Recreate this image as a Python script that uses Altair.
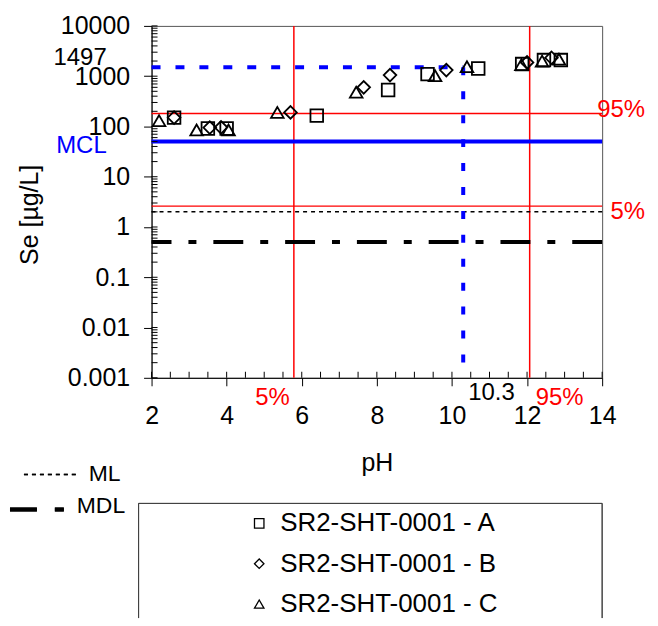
import altair as alt
import pandas as pd

# ---------------- data ----------------
series_names = ["SR2-SHT-0001 - A", "SR2-SHT-0001 - B", "SR2-SHT-0001 - C"]
a_ph = [2.6, 3.5, 4.0, 6.4, 8.3, 9.35, 10.7, 11.87, 12.45, 12.9]
a_se = [150, 91, 91, 164, 530, 1100, 1420, 1740, 2090, 2090]
b_ph = [2.6, 3.55, 3.85, 5.7, 7.65, 8.35, 9.85, 12.0, 12.65]
b_se = [150, 95, 96, 190, 600, 1050, 1320, 1880, 2320]
c_ph = [2.2, 3.2, 4.05, 5.35, 7.45, 9.55, 10.4, 11.85, 12.4, 12.85]
c_se = [130, 85, 85, 190, 480, 1020, 1540, 1700, 2000, 2170]

ph_pct = [5.79, 12.07]          # 5 % and 95 % pH
se_pct = [2.6, 180]             # 5 % and 95 % Se
pct_labels = ["5%", "95%"]
mcl = [50]
ml = [2]
mdl = [0.5]
ph_cross = [10.3]
se_cross = [1497]

x_ticks = [2, 4, 6, 8, 10, 12, 14]
y_ticks = [0.001, 0.01, 0.1, 1, 10, 100, 1000, 10000]
x_minor = [2 + 0.5 * i for i in range(25)]
y_minor = [k * 10.0 ** e for e in range(-3, 4) for k in range(1, 10)] + [10000]

# ---------------- setup ----------------
W, H = 452, 353
FONT = "Liberation Sans"
FS = 25      # tick labels / axis titles
FT = 24      # annotations

rows = []
for name, xs_, ys_ in zip(series_names, [a_ph, b_ph, c_ph], [a_se, b_se, c_se]):
    for xv, yv in zip(xs_, ys_):
        rows.append({"ph": xv, "se": yv, "series": name})
pts = pd.DataFrame(rows)

xs = alt.Scale(domain=[x_ticks[0], x_ticks[-1]], nice=False, zero=False)
ys = alt.Scale(type="log", domain=[y_ticks[0], y_ticks[-1]], nice=False)

x_axis = alt.Axis(values=x_ticks, format="d", tickSize=8, labelFontSize=FS, labelPadding=18,
                  title="pH", titleFontSize=FS, titlePadding=22, titleFontWeight="normal",
                  domainColor="black", tickColor="black", labelColor="black", titleColor="black",
                  grid=False, labelFlush=False, labelOverlap=False)
y_axis = alt.Axis(values=y_ticks, labelExpr="format(datum.value, '~g')", tickSize=8,
                  labelFontSize=FS, labelPadding=14, title="Se [µg/L]", titleFontSize=FS,
                  titlePadding=18, titleY=189, titleFontWeight="normal", domainColor="black",
                  tickColor="black", labelColor="black", titleColor="black", grid=False,
                  labelFlush=False, labelOverlap=False)

points = alt.Chart(pts).mark_point(filled=False, size=160, strokeWidth=1.8, color="black", opacity=1).encode(
    x=alt.X("ph:Q", scale=xs, axis=x_axis),
    y=alt.Y("se:Q", scale=ys, axis=y_axis),
    shape=alt.Shape("series:N",
                    scale=alt.Scale(domain=series_names, range=["square", "diamond", "triangle-up"]),
                    legend=alt.Legend(orient="none", legendX=95, legendY=486, title=None,
                                      labelFontSize=26, labelFont=FONT, labelColor="black",
                                      labelLimit=500, symbolSize=90, symbolStrokeWidth=1.3,
                                      symbolStrokeColor="black", rowPadding=14.5, labelOffset=8)),
)

# inside (minor) ticks
x_in = alt.Chart(pd.DataFrame({"ph": x_minor})).mark_tick(
    orient="vertical", size=6, thickness=1, color="black", opacity=1).encode(
    x=alt.X("ph:Q", scale=xs, axis=None), y=alt.value(H - 3))
y_in = alt.Chart(pd.DataFrame({"se": y_minor})).mark_tick(
    orient="horizontal", size=6, thickness=1, color="black", opacity=1).encode(
    y=alt.Y("se:Q", scale=ys, axis=None), x=alt.value(3))

def hrule(vals, **kw):
    return alt.Chart(pd.DataFrame({"se": vals})).mark_rule(**kw).encode(
        y=alt.Y("se:Q", scale=ys, axis=None))

def vrule(vals, **kw):
    return alt.Chart(pd.DataFrame({"ph": vals})).mark_rule(**kw).encode(
        x=alt.X("ph:Q", scale=xs, axis=None))

red_h = hrule(se_pct, color="#FF0000", strokeWidth=1.5)
red_v = vrule(ph_pct, color="#FF0000", strokeWidth=1.5)
mcl_r = hrule(mcl, color="#0000FF", strokeWidth=4)
ml_r = hrule(ml, color="black", strokeWidth=1.5, strokeDash=[4, 4])
mdl_r = hrule(mdl, color="black", strokeWidth=4, strokeDash=[30, 17, 8, 17])

cross_df = pd.DataFrame({"ph0": [x_ticks[0]], "ph": ph_cross, "se": se_cross, "se0": [y_ticks[0]]})
cross_h = alt.Chart(cross_df).mark_rule(color="#0000FF", strokeWidth=4, strokeDash=[9, 15]).encode(
    x=alt.X("ph0:Q", scale=xs, axis=None), x2="ph:Q", y=alt.Y("se:Q", scale=ys, axis=None))
cross_v = alt.Chart(cross_df).mark_rule(color="#0000FF", strokeWidth=4, strokeDash=[8, 16]).encode(
    x=alt.X("ph:Q", scale=xs, axis=None), y=alt.Y("se:Q", scale=ys, axis=None), y2="se0:Q")

# texts
t1497 = alt.Chart(cross_df).mark_text(align="right", baseline="middle", dy=-9, fontSize=FT, color="black").encode(
    x=alt.value(-45), y=alt.Y("se:Q", scale=ys, axis=None), text=alt.Text("se:Q", format="d"))
t103 = alt.Chart(cross_df).mark_text(align="left", baseline="middle", dx=5, fontSize=FT, color="black").encode(
    x=alt.X("ph:Q", scale=xs, axis=None), y=alt.value(368), text=alt.Text("ph:Q", format=".1f"))
tmcl = alt.Chart(pd.DataFrame({"se": mcl, "t": ["MCL"]})).mark_text(
    align="right", baseline="middle", dy=4, fontSize=FT, color="#0000FF").encode(
    x=alt.value(-45), y=alt.Y("se:Q", scale=ys, axis=None), text="t:N")

t_se95 = alt.Chart(pd.DataFrame({"se": [se_pct[1]], "t": [pct_labels[1]]})).mark_text(
    align="right", baseline="middle", dy=-4, fontSize=FT, color="#FF0000").encode(
    x=alt.value(W + 43), y=alt.Y("se:Q", scale=ys, axis=None), text="t:N")
t_se5 = alt.Chart(pd.DataFrame({"se": [se_pct[0]], "t": [pct_labels[0]]})).mark_text(
    align="right", baseline="middle", dy=6, fontSize=FT, color="#FF0000").encode(
    x=alt.value(W + 43), y=alt.Y("se:Q", scale=ys, axis=None), text="t:N")
t_ph5 = alt.Chart(pd.DataFrame({"ph": [ph_pct[0]], "t": [pct_labels[0]]})).mark_text(
    align="right", baseline="middle", dx=-4, fontSize=FT, color="#FF0000").encode(
    x=alt.X("ph:Q", scale=xs, axis=None), y=alt.value(373), text="t:N")
t_ph95 = alt.Chart(pd.DataFrame({"ph": [ph_pct[1]], "t": [pct_labels[1]]})).mark_text(
    align="left", baseline="middle", dx=6, fontSize=FT, color="#FF0000").encode(
    x=alt.X("ph:Q", scale=xs, axis=None), y=alt.value(373), text="t:N")

# ML / MDL key (bottom left)
key_df = pd.DataFrame({"t": ["ML", "MDL"]})
ml_key = alt.Chart(key_df).mark_rule(color="black", strokeWidth=1.5, strokeDash=[4, 4]).encode(
    x=alt.value(-128), x2=alt.value(-72), y=alt.value(450))
mdl_key = alt.Chart(key_df).mark_rule(color="black", strokeWidth=4, strokeDash=[27, 18, 9, 40]).encode(
    x=alt.value(-142), x2=alt.value(-88), y=alt.value(485))
ml_txt = alt.Chart(key_df).transform_filter("datum.t == 'ML'").mark_text(
    align="left", baseline="middle", fontSize=23, color="black").encode(
    x=alt.value(-63), y=alt.value(450), text="t:N")
mdl_txt = alt.Chart(key_df).transform_filter("datum.t == 'MDL'").mark_text(
    align="left", baseline="middle", fontSize=23, color="black").encode(
    x=alt.value(-75), y=alt.value(482), text="t:N")

# legend frame (bottom cut off by the window)
box_l = alt.Chart(key_df).mark_rule(color="#404040", strokeWidth=1).encode(
    x=alt.value(-13), y=alt.value(479), y2=alt.value(594))
box_r = alt.Chart(key_df).mark_rule(color="#404040", strokeWidth=1).encode(
    x=alt.value(W), y=alt.value(479), y2=alt.value(594))
box_t = alt.Chart(key_df).mark_rule(color="#404040", strokeWidth=1).encode(
    x=alt.value(-13), x2=alt.value(W), y=alt.value(479))

chart = alt.layer(
    red_h, red_v, ml_r, mdl_r, mcl_r, cross_h, cross_v, x_in, y_in,
    points,
    t1497, t103, tmcl, t_se95, t_se5, t_ph5, t_ph95,
    ml_key, mdl_key, ml_txt, mdl_txt, box_l, box_r, box_t,
).resolve_axis(x="independent", y="independent").properties(
    width=W, height=H, padding={"left": 0, "top": 5, "right": 5, "bottom": 0}
).configure(font=FONT).configure_view(stroke="#555555", strokeWidth=1)

chart.save("out.html", embed_options={"renderer": "svg", "actions": False})
